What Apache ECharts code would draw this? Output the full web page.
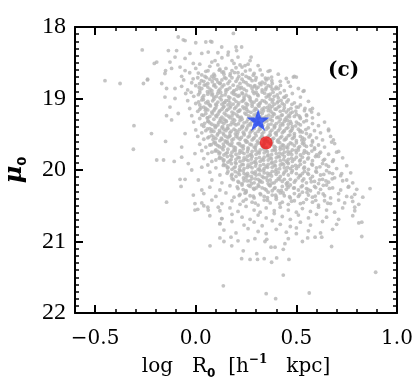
<!DOCTYPE html>
<html><head><meta charset="utf-8">
<script src="https://cdn.jsdelivr.net/npm/echarts@6/dist/echarts.min.js"></script>
<style>html,body{margin:0;padding:0;background:#fff}#c{width:420px;height:380px}</style>
</head><body><div id="c"></div>
<script>
// Tick values
const xMajorTicks = [-0.5, 0, 0.5, 1.0];
const xMinorTicks = [-0.4, -0.3, -0.2, -0.1, 0.1, 0.2, 0.3, 0.4, 0.6, 0.7, 0.8, 0.9];
const yTicks = [18, 19, 20, 21, 22];

// Highlighted points
const starPoint = [0.31, 19.30];
const redPoint = [0.35, 19.62];

// Scatter cloud (flat x,y pairs)
const sparsePoints = [-0.451,18.75,-0.376,18.79,-0.266,18.32,-0.307,19.38,-0.31,19.71,-0.24,18.74,-0.26,18.79,-0.206,18.51,-0.22,19.49,-0.194,19.86,-0.16,19.86,-0.087,18.14,-0.062,18.18,0.074,18.2,0.187,18.09,0.2,18.28,0.485,18.7,0.5,18.7,0.538,18.89,0.568,19.16,0.66,19.45,0.684,19.58,0.866,20.26,-0.145,20.45,0.071,21.06,0.137,21.62,0.35,21.73,0.397,21.8,0.435,21.47,0.564,21.72,0.894,21.43,0.675,21.07,0.825,20.93,0.825,20.73,
-0.053,18.19,0.0,18.22,0.05,18.21,0.08,18.21,0.129,18.28,0.162,18.35,-0.136,18.33,-0.095,18.33,-0.103,18.42,-0.053,18.44,-0.029,18.37,0.03,18.37,0.062,18.35,0.096,18.47,-0.128,18.49,-0.194,18.49,-0.15,18.61,-0.12,18.58,-0.078,18.56,-0.053,18.61,-0.012,18.51,-0.239,18.73,-0.169,18.79,-0.153,18.65,-0.145,18.86,-0.103,18.86,-0.153,18.98,-0.128,19.12,-0.145,19.24,-0.103,19.0,-0.12,19.3,-0.087,19.21,
0.275,18.42,0.27,18.47,0.245,18.54,0.228,18.28,0.203,18.33,0.369,18.61,0.377,18.7,0.36,18.72,0.46,18.77,0.49,18.69,0.534,18.9,0.41,18.86,0.443,18.98,0.5,19.12,0.543,19.14,0.576,19.19,0.551,19.24,0.518,19.26,0.344,18.79,0.294,18.82,
-0.07,19.82,-0.107,19.88,-0.078,20.13,-0.053,20.13,-0.073,20.23,-0.012,20.35,-0.004,20.56,0.04,20.5,0.12,20.75,-0.15,19.6,-0.053,19.49,-0.07,19.68,-0.004,19.77,-0.02,20.0,0.013,20.14,0.03,20.28,-0.004,20.47,0.062,20.56,0.129,20.68,0.112,20.52,0.03,19.96,-0.037,19.91,
0.675,19.61,0.70,19.75,0.684,19.86,0.725,20.05,0.758,20.24,0.775,20.38,0.79,20.52,0.75,20.14,
0.12,20.95,0.14,21.0,0.175,20.94,0.179,21.06,0.21,20.99,0.228,21.24,0.236,21.13,0.26,20.99,0.27,21.25,0.294,20.96,0.303,21.17,0.307,21.25,0.344,21.0,0.34,21.24,0.353,20.97,0.374,21.08,0.377,21.29,0.394,21.08,0.402,21.23,0.435,21.11,0.443,21.03,0.463,21.25,0.46,20.96,0.5,20.89,0.53,21.0,0.556,20.95,0.593,20.94,0.626,20.94];

const cloudUpper = [0.13,18.43,0.18,18.47,0.21,18.42,0.08,18.49,0.16,18.39,0.11,18.36,
0.02,18.52,0.07,18.55,0.11,18.53,0.15,18.58,0.19,18.51,0.23,18.56,0.27,18.6,0.31,18.54,0.05,18.62,0.09,18.66,0.13,18.63,0.17,18.68,0.21,18.64,0.25,18.69,0.29,18.65,0.33,18.67,0.36,18.62,0.41,18.66,-0.03,18.64,-0.07,18.69,0.0,18.58,0.12,18.59,0.18,18.61,0.22,18.53,0.08,18.69,0.26,18.52,0.14,18.66,0.03,18.67,0.2,18.57,0.32,18.6,
-0.06,18.74,-0.02,18.78,0.01,18.71,0.04,18.76,0.06,18.79,0.09,18.72,0.11,18.77,0.13,18.74,0.16,18.79,0.18,18.71,0.2,18.76,0.23,18.73,0.25,18.78,0.28,18.75,0.3,18.71,0.33,18.77,0.35,18.74,0.38,18.79,0.42,18.76,0.45,18.72,0.07,18.73,0.15,18.72,0.22,18.79,0.27,18.72,0.12,18.79,
-0.07,18.83,-0.04,18.88,0.0,18.82,0.03,18.86,0.05,18.81,0.08,18.89,0.1,18.84,0.12,18.87,0.14,18.81,0.17,18.85,0.19,18.89,0.21,18.83,0.24,18.87,0.26,18.81,0.28,18.86,0.31,18.84,0.33,18.88,0.36,18.82,0.38,18.87,0.4,18.84,0.44,18.89,0.47,18.83,0.51,18.86,0.06,18.84,0.15,18.88,0.22,18.86,0.29,18.83,0.35,18.85,0.09,18.82,0.02,18.89,
-0.05,18.93,-0.01,18.97,0.02,18.92,0.04,18.96,0.07,18.91,0.09,18.98,0.11,18.93,0.13,18.96,0.15,18.91,0.17,18.99,0.19,18.94,0.21,18.97,0.23,18.92,0.25,18.95,0.27,18.99,0.29,18.93,0.31,18.96,0.33,18.91,0.35,18.98,0.37,18.94,0.39,18.97,0.42,18.92,0.45,18.96,0.48,18.93,0.52,18.98,0.06,18.94,0.12,18.99,0.18,18.92,0.24,18.98,0.3,18.91,0.36,18.95,0.41,18.99,0.08,18.95,0.2,18.95];

const cloudMid1 = [-0.04,19.03,0.0,19.07,0.03,19.02,0.05,19.06,0.07,19.09,0.09,19.01,0.11,19.05,0.13,19.08,0.15,19.03,0.17,19.06,0.19,19.01,0.21,19.09,0.23,19.04,0.25,19.07,0.27,19.02,0.29,19.05,0.31,19.09,0.33,19.03,0.35,19.06,0.37,19.01,0.39,19.08,0.41,19.04,0.43,19.07,0.46,19.02,0.49,19.06,0.52,19.09,0.56,19.04,0.06,19.04,0.1,19.08,0.14,19.06,0.2,19.04,0.24,19.01,0.28,19.08,0.32,19.06,0.38,19.05,0.44,19.09,0.02,19.09,0.16,19.09,
-0.03,19.14,0.01,19.18,0.04,19.12,0.06,19.16,0.08,19.19,0.1,19.13,0.12,19.17,0.14,19.11,0.16,19.15,0.18,19.19,0.2,19.12,0.22,19.16,0.24,19.14,0.26,19.18,0.28,19.11,0.3,19.15,0.32,19.19,0.34,19.13,0.36,19.17,0.38,19.11,0.4,19.15,0.42,19.18,0.44,19.13,0.46,19.16,0.48,19.19,0.51,19.12,0.54,19.17,0.58,19.14,0.05,19.14,0.09,19.17,0.13,19.15,0.17,19.13,0.21,19.18,0.25,19.12,0.29,19.17,0.33,19.15,0.37,19.14,0.41,19.12,0.45,19.19,0.02,19.15,
-0.02,19.24,0.02,19.28,0.05,19.21,0.07,19.25,0.09,19.29,0.11,19.22,0.13,19.26,0.15,19.23,0.17,19.27,0.19,19.21,0.21,19.25,0.23,19.29,0.25,19.22,0.27,19.26,0.29,19.23,0.31,19.28,0.33,19.21,0.35,19.25,0.37,19.29,0.39,19.22,0.41,19.26,0.43,19.23,0.45,19.27,0.47,19.21,0.49,19.25,0.52,19.28,0.55,19.23,0.58,19.27,0.61,19.22,0.06,19.27,0.1,19.24,0.14,19.29,0.18,19.24,0.22,19.27,0.26,19.29,0.3,19.24,0.34,19.27,0.38,19.25,0.42,19.29,0.46,19.24,0.5,19.22,0.03,19.23,
-0.01,19.33,0.03,19.37,0.06,19.32,0.08,19.36,0.1,19.39,0.12,19.31,0.14,19.35,0.16,19.38,0.18,19.33,0.2,19.37,0.22,19.31,0.24,19.34,0.26,19.38,0.28,19.32,0.3,19.36,0.32,19.39,0.34,19.33,0.36,19.37,0.38,19.31,0.4,19.35,0.42,19.38,0.44,19.32,0.46,19.36,0.48,19.39,0.5,19.33,0.52,19.37,0.55,19.31,0.58,19.35,0.61,19.38,0.64,19.33,0.07,19.34,0.11,19.37,0.15,19.31,0.19,19.35,0.23,19.39,0.27,19.35,0.31,19.33,0.35,19.31,0.39,19.38,0.43,19.35,0.47,19.32,0.51,19.35,0.04,19.39,0.13,19.33,
0.0,19.44,0.03,19.48,0.07,19.42,0.09,19.46,0.11,19.49,0.13,19.41,0.15,19.45,0.17,19.48,0.19,19.43,0.21,19.47,0.23,19.41,0.25,19.44,0.27,19.48,0.29,19.42,0.31,19.46,0.33,19.49,0.35,19.43,0.37,19.47,0.39,19.41,0.41,19.45,0.43,19.48,0.45,19.42,0.47,19.46,0.49,19.49,0.51,19.43,0.53,19.47,0.56,19.41,0.59,19.45,0.62,19.48,0.66,19.43,0.08,19.44,0.12,19.47,0.16,19.42,0.2,19.45,0.24,19.49,0.28,19.45,0.32,19.43,0.36,19.41,0.4,19.48,0.44,19.45,0.48,19.42,0.52,19.45,0.05,19.45,0.14,19.43,0.55,19.49];

const cloudMid2 = [0.01,19.53,0.04,19.57,0.08,19.52,0.1,19.56,0.12,19.59,0.14,19.51,0.16,19.55,0.18,19.58,0.2,19.53,0.22,19.57,0.24,19.51,0.26,19.54,0.28,19.58,0.3,19.52,0.32,19.56,0.34,19.59,0.36,19.53,0.38,19.57,0.4,19.51,0.42,19.55,0.44,19.58,0.46,19.52,0.48,19.56,0.5,19.59,0.52,19.53,0.54,19.57,0.57,19.51,0.6,19.55,0.63,19.58,0.67,19.53,0.09,19.54,0.13,19.57,0.17,19.52,0.21,19.55,0.25,19.59,0.29,19.55,0.33,19.53,0.37,19.51,0.41,19.58,0.45,19.55,0.49,19.52,0.53,19.55,0.06,19.55,0.15,19.53,0.58,19.59,
0.02,19.64,0.05,19.68,0.09,19.62,0.11,19.66,0.13,19.69,0.15,19.61,0.17,19.65,0.19,19.68,0.21,19.63,0.23,19.67,0.25,19.61,0.27,19.64,0.29,19.68,0.31,19.62,0.33,19.66,0.35,19.69,0.37,19.63,0.39,19.67,0.41,19.61,0.43,19.65,0.45,19.68,0.47,19.62,0.49,19.66,0.51,19.69,0.53,19.63,0.55,19.67,0.58,19.61,0.61,19.65,0.64,19.68,0.69,19.63,0.1,19.64,0.14,19.67,0.18,19.62,0.22,19.65,0.26,19.69,0.3,19.65,0.34,19.63,0.38,19.61,0.42,19.68,0.46,19.65,0.5,19.62,0.54,19.65,0.07,19.65,0.16,19.63,0.59,19.69,
0.03,19.73,0.06,19.77,0.1,19.72,0.12,19.76,0.14,19.79,0.16,19.71,0.18,19.75,0.2,19.78,0.22,19.73,0.24,19.77,0.26,19.71,0.28,19.74,0.3,19.78,0.32,19.72,0.34,19.76,0.36,19.79,0.38,19.73,0.4,19.77,0.42,19.71,0.44,19.75,0.46,19.78,0.48,19.72,0.5,19.76,0.52,19.79,0.54,19.73,0.56,19.77,0.59,19.71,0.62,19.75,0.66,19.78,0.71,19.74,0.11,19.74,0.15,19.77,0.19,19.72,0.23,19.75,0.27,19.79,0.31,19.75,0.35,19.73,0.39,19.71,0.43,19.78,0.47,19.75,0.51,19.72,0.55,19.75,0.08,19.75,0.6,19.79,
0.04,19.84,0.08,19.88,0.12,19.82,0.14,19.86,0.16,19.89,0.18,19.81,0.2,19.85,0.22,19.88,0.24,19.83,0.26,19.87,0.28,19.81,0.3,19.84,0.32,19.88,0.34,19.82,0.36,19.86,0.38,19.89,0.4,19.83,0.42,19.87,0.44,19.81,0.46,19.85,0.48,19.88,0.5,19.82,0.52,19.86,0.54,19.89,0.56,19.83,0.58,19.87,0.61,19.81,0.64,19.85,0.68,19.88,0.73,19.83,0.13,19.84,0.17,19.87,0.21,19.82,0.25,19.85,0.29,19.89,0.33,19.85,0.37,19.83,0.41,19.81,0.45,19.88,0.49,19.85,0.53,19.82,0.1,19.86,
0.06,19.93,0.1,19.97,0.14,19.92,0.16,19.96,0.18,19.99,0.2,19.91,0.22,19.95,0.24,19.98,0.26,19.93,0.28,19.97,0.3,19.91,0.32,19.94,0.34,19.98,0.36,19.92,0.38,19.96,0.4,19.99,0.42,19.93,0.44,19.97,0.46,19.91,0.48,19.95,0.5,19.98,0.52,19.92,0.54,19.96,0.56,19.99,0.58,19.93,0.6,19.97,0.63,19.91,0.66,19.95,0.7,19.98,0.75,19.94,0.15,19.94,0.19,19.97,0.23,19.92,0.27,19.95,0.31,19.99,0.35,19.95,0.39,19.93,0.43,19.91,0.47,19.98,0.51,19.95];

const cloudLower = [0.07,20.03,0.12,20.07,0.16,20.02,0.18,20.06,0.2,20.09,0.22,20.01,0.24,20.05,0.26,20.08,0.28,20.03,0.3,20.07,0.32,20.01,0.34,20.04,0.36,20.08,0.38,20.02,0.4,20.06,0.42,20.09,0.44,20.03,0.46,20.07,0.48,20.01,0.5,20.05,0.52,20.08,0.54,20.02,0.56,20.06,0.58,20.09,0.6,20.03,0.62,20.07,0.65,20.01,0.68,20.05,0.72,20.08,0.77,20.04,0.21,20.04,0.25,20.07,0.29,20.05,0.33,20.09,0.37,20.05,0.41,20.03,0.45,20.01,0.53,20.05,
0.08,20.14,0.13,20.18,0.18,20.12,0.21,20.16,0.23,20.19,0.25,20.11,0.27,20.15,0.29,20.18,0.31,20.13,0.33,20.17,0.35,20.11,0.37,20.14,0.39,20.18,0.41,20.12,0.43,20.16,0.45,20.19,0.47,20.13,0.49,20.17,0.51,20.11,0.53,20.15,0.55,20.18,0.57,20.12,0.59,20.16,0.61,20.19,0.63,20.13,0.66,20.17,0.69,20.11,0.73,20.15,0.78,20.18,0.24,20.15,0.28,20.12,0.32,20.15,0.36,20.19,0.4,20.15,0.44,20.13,
0.07,20.24,0.12,20.28,0.17,20.22,0.21,20.26,0.23,20.21,0.25,20.29,0.27,20.23,0.29,20.27,0.31,20.21,0.33,20.25,0.35,20.28,0.37,20.22,0.39,20.26,0.41,20.29,0.43,20.23,0.45,20.27,0.47,20.21,0.49,20.25,0.51,20.28,0.53,20.22,0.55,20.26,0.57,20.29,0.59,20.23,0.62,20.27,0.65,20.21,0.68,20.25,0.72,20.28,0.76,20.23,0.8,20.27,0.3,20.25,0.38,20.29,0.46,20.24,
0.04,20.33,0.1,20.37,0.15,20.32,0.19,20.38,0.22,20.34,0.25,20.31,0.27,20.36,0.29,20.39,0.32,20.33,0.34,20.37,0.36,20.31,0.38,20.35,0.4,20.38,0.42,20.32,0.44,20.36,0.47,20.39,0.49,20.33,0.51,20.37,0.53,20.31,0.56,20.35,0.58,20.38,0.61,20.32,0.64,20.36,0.67,20.39,0.71,20.33,0.75,20.37,0.79,20.34,0.83,20.38,
0.03,20.46,0.08,20.42,0.13,20.47,0.18,20.43,0.22,20.48,0.25,20.41,0.28,20.45,0.31,20.49,0.34,20.42,0.37,20.46,0.4,20.41,0.43,20.45,0.46,20.48,0.49,20.43,0.52,20.47,0.55,20.41,0.58,20.45,0.61,20.49,0.64,20.43,0.67,20.47,0.71,20.42,0.74,20.46,0.78,20.44,0.81,20.48,
0.01,20.55,0.06,20.52,0.12,20.57,0.17,20.53,0.21,20.58,0.25,20.51,0.29,20.56,0.32,20.59,0.35,20.53,0.39,20.57,0.42,20.52,0.46,20.56,0.5,20.59,0.53,20.54,0.57,20.58,0.61,20.52,0.65,20.56,0.69,20.59,0.73,20.53,0.79,20.57,
0.07,20.64,0.13,20.68,0.18,20.62,0.23,20.66,0.27,20.69,0.31,20.63,0.35,20.67,0.39,20.61,0.43,20.65,0.47,20.69,0.51,20.63,0.56,20.67,0.6,20.62,0.65,20.66,0.71,20.69,0.78,20.64,
0.12,20.75,0.18,20.72,0.24,20.77,0.29,20.73,0.33,20.78,0.38,20.71,0.42,20.76,0.47,20.79,0.52,20.73,0.57,20.77,0.63,20.72,0.7,20.76,0.81,20.74,
0.14,20.84,0.2,20.88,0.26,20.82,0.31,20.86,0.35,20.89,0.4,20.83,0.45,20.87,0.5,20.81,0.56,20.85,0.62,20.88,0.68,20.83];

const cloudCoreExtra = [0.013,18.645,0.061,18.612,0.094,18.683,0.138,18.628,0.172,18.651,0.214,18.693,0.247,18.617,0.286,18.674,0.046,18.692,0.117,18.604,0.193,18.637,0.232,18.662,
-0.013,18.725,0.028,18.752,0.053,18.708,0.082,18.766,0.104,18.735,0.143,18.708,0.168,18.757,0.207,18.726,0.238,18.764,0.262,18.709,0.297,18.742,0.318,18.788,0.346,18.715,0.378,18.752,0.121,18.785,0.019,18.792,
0.017,18.845,0.042,18.812,0.071,18.868,0.093,18.807,0.131,18.836,0.158,18.873,0.186,18.814,0.227,18.846,0.252,18.893,0.272,18.823,0.302,18.858,0.324,18.806,0.347,18.877,0.373,18.832,0.396,18.864,0.421,18.817,0.113,18.894,0.203,18.871,
-0.023,18.914,0.013,18.947,0.034,18.983,0.058,18.905,0.083,18.936,0.102,18.972,0.124,18.916,0.146,18.948,0.163,18.977,0.188,18.907,0.216,18.958,0.233,18.935,0.264,18.971,0.284,18.903,0.307,18.944,0.342,18.926,0.363,18.968,0.384,18.912,0.405,18.951,0.438,18.984,
0.014,19.048,0.038,19.014,0.063,19.073,0.084,19.032,0.103,19.094,0.127,19.018,0.144,19.055,0.163,19.027,0.186,19.078,0.214,19.063,0.236,19.029,0.258,19.086,0.276,19.045,0.302,19.021,0.318,19.074,0.342,19.038,0.366,19.092,0.384,19.017,0.405,19.061,0.424,19.025,0.453,19.048,0.478,19.081,
0.026,19.128,0.048,19.163,0.073,19.104,0.094,19.146,0.116,19.187,0.137,19.123,0.153,19.168,0.174,19.105,0.193,19.142,0.216,19.175,0.234,19.116,0.253,19.153,0.274,19.193,0.296,19.137,0.314,19.108,0.337,19.172,0.356,19.126,0.374,19.184,0.394,19.148,0.417,19.107,0.436,19.165,0.473,19.137,0.497,19.176,
0.038,19.236,0.057,19.273,0.082,19.213,0.104,19.254,0.123,19.283,0.142,19.206,0.163,19.247,0.184,19.288,0.204,19.228,0.226,19.261,0.244,19.204,0.263,19.243,0.283,19.276,0.304,19.213,0.323,19.257,0.346,19.284,0.363,19.233,0.384,19.207,0.403,19.268,0.425,19.238,0.444,19.294,0.466,19.255,0.513,19.243,
0.044,19.347,0.063,19.318,0.093,19.375,0.114,19.337,0.133,19.392,0.152,19.323,0.174,19.366,0.193,19.304,0.212,19.354,0.234,19.388,0.253,19.326,0.272,19.367,0.293,19.307,0.314,19.345,0.333,19.378,0.354,19.314,0.374,19.357,0.393,19.392,0.414,19.328,0.433,19.368,0.456,19.306,0.474,19.347,0.496,19.384,0.537,19.326,
0.058,19.425,0.076,19.464,0.097,19.408,0.118,19.446,0.136,19.483,0.157,19.417,0.176,19.458,0.197,19.494,0.218,19.433,0.236,19.472,0.254,19.414,0.276,19.452,0.296,19.488,0.316,19.427,0.338,19.468,0.357,19.403,0.378,19.443,0.396,19.485,0.418,19.423,0.437,19.463,0.458,19.407,0.476,19.447,0.518,19.466,0.547,19.434,
0.066,19.536,0.086,19.574,0.107,19.512,0.127,19.553,0.146,19.594,0.167,19.527,0.188,19.566,0.206,19.505,0.227,19.544,0.246,19.585,0.267,19.523,0.287,19.562,0.306,19.597,0.327,19.537,0.347,19.574,0.366,19.514,0.387,19.556,0.406,19.593,0.427,19.532,0.447,19.571,0.468,19.509,0.488,19.547,0.527,19.582,0.563,19.538,
0.077,19.646,0.096,19.613,0.118,19.675,0.137,19.638,0.156,19.603,0.178,19.656,0.197,19.692,0.216,19.627,0.237,19.664,0.256,19.607,0.277,19.648,0.296,19.686,0.317,19.624,0.336,19.663,0.357,19.602,0.377,19.645,0.396,19.683,0.417,19.617,0.436,19.656,0.457,19.694,0.478,19.634,0.516,19.673,0.536,19.612,0.574,19.655,
0.096,19.736,0.116,19.773,0.136,19.716,0.157,19.754,0.174,19.792,0.196,19.727,0.217,19.764,0.236,19.704,0.257,19.745,0.276,19.783,0.297,19.723,0.316,19.762,0.337,19.706,0.356,19.744,0.377,19.786,0.396,19.726,0.417,19.763,0.436,19.703,0.457,19.742,0.477,19.784,0.497,19.725,0.536,19.764,0.577,19.736,0.615,19.767,
0.117,19.836,0.138,19.874,0.157,19.812,0.176,19.853,0.197,19.895,0.216,19.827,0.236,19.867,0.257,19.806,0.276,19.846,0.297,19.884,0.316,19.824,0.337,19.862,0.357,19.803,0.376,19.843,0.397,19.882,0.416,19.817,0.437,19.856,0.457,19.895,0.476,19.834,0.516,19.873,0.556,19.845,0.595,19.812,0.634,19.864,
0.137,19.936,0.158,19.973,0.177,19.912,0.196,19.955,0.217,19.993,0.236,19.926,0.257,19.964,0.276,19.905,0.297,19.945,0.316,19.984,0.337,19.921,0.357,19.963,0.376,19.903,0.396,19.943,0.417,19.982,0.437,19.925,0.456,19.962,0.496,19.936,0.537,19.974,0.576,19.917,0.617,19.955,0.648,19.928,
0.156,20.046,0.177,20.083,0.196,20.024,0.217,20.064,0.236,20.012,0.257,20.047,0.276,20.088,0.297,20.026,0.316,20.063,0.337,20.005,0.356,20.044,0.377,20.084,0.396,20.023,0.436,20.057,0.476,20.036,0.517,20.074,0.556,20.043,0.597,20.017,0.636,20.062,0.664,20.038,
0.187,20.136,0.214,20.174,0.237,20.112,0.256,20.153,0.277,20.192,0.296,20.124,0.318,20.165,0.337,20.107,0.356,20.146,0.378,20.184,0.417,20.134,0.456,20.173,0.496,20.145,0.537,20.126,0.574,20.164,0.615,20.137,0.647,20.153,0.678,20.124,
0.206,20.236,0.236,20.274,0.262,20.215,0.287,20.256,0.314,20.228,0.343,20.263,0.366,20.214,0.394,20.247,0.425,20.285,0.454,20.217,0.486,20.253,0.524,20.236,0.558,20.272,0.596,20.246,0.634,20.214,0.664,20.258,
0.216,20.357,0.245,20.324,0.286,20.366,0.323,20.345,0.356,20.385,0.397,20.353,0.434,20.322,0.466,20.374,0.516,20.346,0.553,20.313,0.594,20.365,0.633,20.334,
0.236,20.436,0.296,20.463,0.357,20.426,0.418,20.472,0.476,20.437,0.535,20.456,0.596,20.424,0.656,20.465];

function pairs(a) { const r = []; for (let i = 0; i + 1 < a.length; i += 2) r.push([a[i], a[i + 1]]); return r; }
const cloud = [].concat(pairs(sparsePoints), pairs(cloudUpper), pairs(cloudMid1), pairs(cloudMid2), pairs(cloudLower), pairs(cloudCoreExtra));

const XMIN = -0.6, XMAX = 1.0, YMIN = 18, YMAX = 22;
const black = '#000';
const fmtX = v => (v < 0 ? '\u2212' : '') + Math.abs(v).toFixed(1);

function xAx(pos, major, withLabel) {
  return {
    type: 'value', min: XMIN, max: XMAX, position: pos,
    axisLine: { show: major, onZero: false, lineStyle: { color: black, width: 2 } },
    axisTick: { show: true, inside: true, length: major ? 8 : 4,
      customValues: major ? xMajorTicks : xMinorTicks,
      lineStyle: { color: black, width: major ? 2 : 1.5 } },
    axisLabel: withLabel ? { show: true, customValues: xMajorTicks, formatter: fmtX,
      fontSize: 20, color: black, fontFamily: 'DejaVu Serif', margin: 16 } : { show: false },
    splitLine: { show: false }
  };
}
function yAx(pos, withLabel) {
  return {
    type: 'value', inverse: true, min: YMIN, max: YMAX, interval: 1, position: pos,
    axisLine: { show: true, onZero: false, lineStyle: { color: black, width: 2 } },
    axisTick: { show: true, inside: true, length: 8, lineStyle: { color: black, width: 2 } },
    minorTick: { show: true, splitNumber: 10, length: 4, lineStyle: { color: black, width: 1.5 } },
    axisLabel: withLabel ? { show: true, customValues: yTicks, fontSize: 24, color: black, fontFamily: 'Liberation Serif', margin: 9 } : { show: false },
    splitLine: { show: false }, minorSplitLine: { show: false }
  };
}

const xAxes = [xAx('bottom', true, true), xAx('bottom', false, false), xAx('top', true, false), xAx('top', false, false)];
xAxes[0].name = '{n|log   R}{sub|0}{n|  [h}{sup|\u22121}{n|   kpc]}';
xAxes[0].nameLocation = 'middle';
xAxes[0].nameGap = 40;
xAxes[0].nameTextStyle = {
  color: black,
  rich: {
    n: { fontFamily: 'DejaVu Serif', fontSize: 20, lineHeight: 26, color: black },
    sub: { fontFamily: 'DejaVu Sans', fontWeight: 'bold', fontSize: 12, lineHeight: 12, verticalAlign: 'bottom', color: black },
    sup: { fontFamily: 'DejaVu Serif', fontWeight: 'bold', fontSize: 12, lineHeight: 12, verticalAlign: 'top', color: black }
  }
};
const yAxes = [yAx('left', true), yAx('right', false)];
yAxes[0].name = '{m|\u03bc}{s|0}';
yAxes[0].nameLocation = 'middle';
yAxes[0].nameGap = 46;
yAxes[0].nameRotate = 90;
yAxes[0].nameTextStyle = {
  color: black,
  rich: {
    m: { fontFamily: 'DejaVu Serif', fontWeight: 'bold', fontStyle: 'italic', fontSize: 24, lineHeight: 28, color: black },
    s: { fontFamily: 'DejaVu Sans', fontWeight: 'bold', fontSize: 13, lineHeight: 13, verticalAlign: 'bottom', color: black }
  }
};

const chart = echarts.init(document.getElementById('c'), null, { renderer: 'canvas' });
chart.setOption({
  animation: false,
  backgroundColor: '#fff',
  grid: { left: 75, top: 27, width: 322, height: 286, containLabel: false, outerBoundsMode: 'none' },
  xAxis: xAxes,
  yAxis: yAxes,
  graphic: [{ type: 'text', left: 328, top: 61, z: 10,
    style: { text: '(c)', fontSize: 20, fontWeight: 'bold', fontFamily: 'DejaVu Serif', fill: black } }],
  series: [
    { type: 'scatter', xAxisIndex: 0, yAxisIndex: 0, data: cloud, symbol: 'circle', symbolSize: 3.8,
      itemStyle: { color: '#b5b5b5' }, silent: true, z: 2 },
    { type: 'scatter', xAxisIndex: 0, yAxisIndex: 0, data: [starPoint],
      symbol: 'path://M50,0 L61.8,35.1 L98.1,35.1 L68.8,56.7 L79.4,91.2 L50,70 L20.6,91.2 L31.2,56.7 L1.9,35.1 L38.2,35.1 Z',
      symbolSize: [23, 22], itemStyle: { color: '#1a40f5' }, silent: true, z: 5 },
    { type: 'scatter', xAxisIndex: 0, yAxisIndex: 0, data: [redPoint], symbol: 'circle', symbolSize: 13,
      itemStyle: { color: '#ee1414' }, silent: true, z: 5 }
  ]
});
</script></body></html>
